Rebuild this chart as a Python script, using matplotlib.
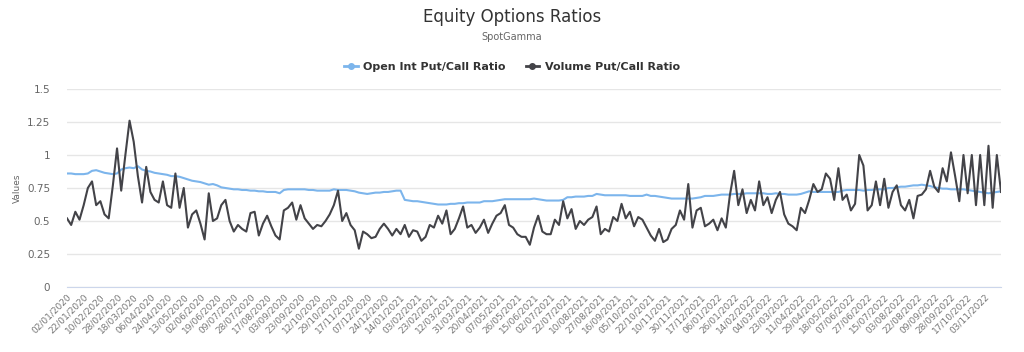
import matplotlib.pyplot as plt
from matplotlib.lines import Line2D

# tick labels, one every 13 trading days (4 samples per label step)
tick_labels = [
    '02/01/2020', '22/01/2020', '10/02/2020', '28/02/2020', '18/03/2020', '06/04/2020',
    '24/04/2020', '13/05/2020', '02/06/2020', '19/06/2020', '09/07/2020', '28/07/2020',
    '17/08/2020', '03/09/2020', '23/09/2020', '12/10/2020', '29/10/2020', '17/11/2020',
    '07/12/2020', '24/12/2020', '14/01/2021', '03/02/2021', '23/02/2021', '12/03/2021',
    '31/03/2021', '20/04/2021', '07/05/2021', '26/05/2021', '15/06/2021', '02/07/2021',
    '22/07/2021', '10/08/2021', '27/08/2021', '16/09/2021', '05/10/2021', '22/10/2021',
    '10/11/2021', '30/11/2021', '17/12/2021', '06/01/2022', '26/01/2022', '14/02/2022',
    '04/03/2022', '23/03/2022', '11/04/2022', '29/04/2022', '18/05/2022', '07/06/2022',
    '27/06/2022', '15/07/2022', '03/08/2022', '22/08/2022', '09/09/2022', '28/09/2022',
    '17/10/2022', '03/11/2022',
]
samples_per_label = 4

# Open Int Put/Call Ratio
open_int = [
    0.86, 0.86, 0.855, 0.855, 0.855, 0.86, 0.88, 0.885, 0.875, 0.865,
    0.86, 0.855, 0.86, 0.89, 0.90, 0.905, 0.90, 0.915, 0.89, 0.88,
    0.875, 0.865, 0.86, 0.855, 0.85, 0.84, 0.84, 0.835, 0.825, 0.815,
    0.805, 0.80, 0.795, 0.785, 0.775, 0.78, 0.77, 0.755, 0.75, 0.745,
    0.74, 0.74, 0.735, 0.735, 0.73, 0.73, 0.725, 0.725, 0.72, 0.72,
    0.72, 0.71, 0.735, 0.74, 0.74, 0.74, 0.74, 0.74, 0.735, 0.735,
    0.73, 0.73, 0.73, 0.73, 0.74, 0.735, 0.735, 0.735, 0.73, 0.725,
    0.715, 0.71, 0.705, 0.71, 0.715, 0.715, 0.72, 0.72, 0.725, 0.73,
    0.73, 0.66, 0.655, 0.65, 0.65, 0.645, 0.64, 0.635, 0.63, 0.625,
    0.625, 0.625, 0.63, 0.63, 0.635, 0.635, 0.64, 0.64, 0.64, 0.64,
    0.65, 0.65, 0.65, 0.655, 0.66, 0.665, 0.665, 0.665, 0.665, 0.665,
    0.665, 0.665, 0.67, 0.665, 0.66, 0.655, 0.655, 0.655, 0.655, 0.66,
    0.68, 0.68, 0.685, 0.685, 0.685, 0.69, 0.69, 0.705, 0.70, 0.695,
    0.695, 0.695, 0.695, 0.695, 0.695, 0.69, 0.69, 0.69, 0.69, 0.70,
    0.69, 0.69, 0.685, 0.68, 0.675, 0.67, 0.67, 0.67, 0.67, 0.67,
    0.67, 0.675, 0.68, 0.69, 0.69, 0.69, 0.695, 0.70, 0.70, 0.70,
    0.705, 0.705, 0.705, 0.71, 0.71, 0.71, 0.71, 0.71, 0.705, 0.705,
    0.71, 0.705, 0.705, 0.70, 0.70, 0.70, 0.705, 0.715, 0.725, 0.72,
    0.72, 0.72, 0.72, 0.72, 0.72, 0.72, 0.73, 0.735, 0.735, 0.735,
    0.735, 0.73, 0.735, 0.735, 0.74, 0.74, 0.74, 0.75, 0.75, 0.755,
    0.76, 0.76, 0.765, 0.77, 0.77, 0.775, 0.77, 0.765, 0.755, 0.75,
    0.745, 0.745, 0.74, 0.74, 0.74, 0.74, 0.735, 0.73, 0.725, 0.72,
    0.715, 0.71, 0.715, 0.72, 0.725,
]

# Volume Put/Call Ratio
volume = [
    0.52, 0.47, 0.57, 0.51, 0.62, 0.75, 0.80, 0.62, 0.65, 0.55,
    0.52, 0.77, 1.05, 0.73, 1.00, 1.26, 1.10, 0.84, 0.64, 0.91,
    0.72, 0.66, 0.64, 0.80, 0.62, 0.60, 0.86, 0.60, 0.75, 0.45,
    0.55, 0.58, 0.48, 0.36, 0.71, 0.50, 0.52, 0.62, 0.66, 0.50,
    0.42, 0.47, 0.44, 0.42, 0.56, 0.57, 0.39, 0.48, 0.54, 0.46,
    0.39, 0.36, 0.58, 0.60, 0.64, 0.51, 0.62, 0.52, 0.48, 0.44,
    0.47, 0.46, 0.50, 0.55, 0.62, 0.73, 0.50, 0.56, 0.47, 0.43,
    0.29, 0.42, 0.40, 0.37, 0.38, 0.44, 0.48, 0.44, 0.39, 0.44,
    0.40, 0.47, 0.38, 0.43, 0.42, 0.35, 0.38, 0.47, 0.45, 0.54,
    0.48, 0.58, 0.40, 0.44, 0.52, 0.61, 0.45, 0.47, 0.41, 0.45,
    0.51, 0.41, 0.48, 0.54, 0.56, 0.62, 0.47, 0.45, 0.40, 0.38,
    0.38, 0.32, 0.45, 0.54, 0.42, 0.40, 0.40, 0.51, 0.47, 0.65,
    0.52, 0.59, 0.44, 0.50, 0.47, 0.51, 0.53, 0.61, 0.40, 0.44,
    0.42, 0.53, 0.50, 0.63, 0.52, 0.57, 0.46, 0.53, 0.51, 0.45,
    0.39, 0.35, 0.44, 0.34, 0.36, 0.44, 0.47, 0.58, 0.51, 0.78,
    0.45, 0.58, 0.60, 0.46, 0.48, 0.51, 0.43, 0.52, 0.45, 0.70,
    0.88, 0.62, 0.74, 0.56, 0.66, 0.58, 0.80, 0.62, 0.68, 0.56,
    0.66, 0.72, 0.55, 0.48, 0.46, 0.43, 0.60, 0.56, 0.66, 0.78,
    0.72, 0.74, 0.86, 0.82, 0.66, 0.90, 0.66, 0.70, 0.58, 0.63,
    1.00, 0.92, 0.58, 0.62, 0.80, 0.62, 0.82, 0.60, 0.72, 0.77,
    0.62, 0.58, 0.66, 0.52, 0.69, 0.70, 0.74, 0.88, 0.76, 0.72,
    0.90, 0.80, 1.02, 0.84, 0.65, 1.00, 0.71, 1.00, 0.62, 1.00,
    0.62, 1.07, 0.60, 1.00, 0.72,
]

y_ticks = [0, 0.25, 0.5, 0.75, 1, 1.25, 1.5]
y_tick_labels = ['0', '0.25', '0.5', '0.75', '1', '1.25', '1.5']

blue = '#7cb5ec'
dark = '#434348'

plt.rcParams['font.family'] = ['DejaVu Sans']

fig = plt.figure(figsize=(10.24, 3.52), dpi=100)
ax = fig.add_axes([67 / 1024, 1 - 287 / 352, (1001 - 67) / 1024, (287 - 89) / 352])

x = list(range(len(volume)))
ax.plot(x, open_int, color=blue, lw=1.5, zorder=3)
ax.plot(x, volume, color=dark, lw=1.5, zorder=4)

ax.set_xlim(0, len(volume) - 1)
ax.set_ylim(0, 1.5)
ax.set_yticks(y_ticks)
ax.set_yticklabels(y_tick_labels)
ax.set_xticks(range(0, len(tick_labels) * samples_per_label, samples_per_label))
ax.set_xticklabels(tick_labels, rotation=45, ha='right', rotation_mode='anchor')

ax.grid(axis='y', color='#e6e6e6', lw=1)
ax.set_axisbelow(True)
for side in ['top', 'right', 'left']:
    ax.spines[side].set_visible(False)
ax.spines['bottom'].set_color('#ccd6eb')
ax.tick_params(axis='y', length=0, labelsize=7.5, colors='#666666', pad=12)
ax.tick_params(axis='x', length=0, labelsize=6.5, colors='#777777', pad=4)
ax.set_ylabel('Values', fontsize=6.5, color='#666666', labelpad=4)

fig.text(0.5, 1 - 17 / 352, 'Equity Options Ratios', ha='center', va='center',
         fontsize=12, color='#333333')
fig.text(0.5, 1 - 37 / 352, 'SpotGamma', ha='center', va='center',
         fontsize=7, color='#666666')

handles = [
    Line2D([], [], color=blue, lw=2, marker='o', markersize=4),
    Line2D([], [], color=dark, lw=2, marker='o', markersize=4),
]
fig.legend(handles, ['Open Int Put/Call Ratio', 'Volume Put/Call Ratio'],
           loc='center', bbox_to_anchor=(0.5, 1 - 67 / 352), ncol=2, frameon=False,
           prop={'weight': 'bold', 'size': 8}, labelcolor='#333333',
           handlelength=1.2, handletextpad=0.5, columnspacing=1.8)

fig.savefig('out.png', dpi=100)
